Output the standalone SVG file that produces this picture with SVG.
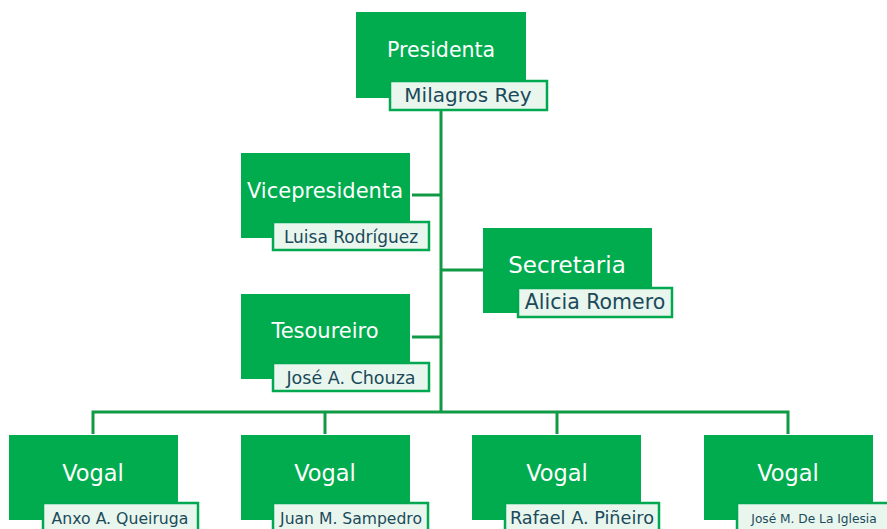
<svg xmlns="http://www.w3.org/2000/svg" width="887" height="529" viewBox="0 0 887 529">
<style>
.box{fill:#00ac4e;}
.nb{fill:#e9f6ee;stroke:#00a84f;stroke-width:2.5;}
.t{font-family:"DejaVu Sans","Liberation Sans",sans-serif;font-size:21px;fill:#ffffff;text-anchor:middle;}
.v{font-size:22.5px;}
.n{font-family:"DejaVu Sans","Liberation Sans",sans-serif;font-size:19px;fill:#1b4a5a;text-anchor:middle;}
.c{stroke:#109a45;stroke-width:3;fill:none;}
</style>
<rect width="887" height="529" fill="#ffffff"/>
<g id="connectors">
<path class="c" d="M441 110 V412"/>
<path class="c" d="M412 195 H441"/>
<path class="c" d="M441 270 H483"/>
<path class="c" d="M412 337 H441"/>
<path class="c" d="M93 434 V412 H788 V434"/>
<path class="c" d="M325 412 V434"/>
<path class="c" d="M557 412 V434"/>
</g>
<g id="presidenta">
<rect class="box" x="356" y="12" width="170" height="86"/>
<text class="t" x="441" y="57" style="font-size:20.5px">Presidenta</text>
<rect class="nb" x="390" y="81" width="157" height="29"/>
<text class="n" x="468" y="102" style="font-size:20px">Milagros Rey</text>
</g>
<g id="vicepresidenta">
<rect class="box" x="241" y="153" width="169" height="85"/>
<text class="t" x="325" y="198">Vicepresidenta</text>
<rect class="nb" x="273" y="222" width="156" height="28"/>
<text class="n" x="351" y="243" style="font-size:17px">Luisa Rodríguez</text>
</g>
<g id="secretaria">
<rect class="box" x="483" y="228" width="169" height="85"/>
<text class="t" x="567" y="273" style="font-size:23px">Secretaria</text>
<rect class="nb" x="518" y="288" width="154" height="29"/>
<text class="n" x="595" y="309" style="font-size:20.5px">Alicia Romero</text>
</g>
<g id="tesoureiro">
<rect class="box" x="241" y="294" width="169" height="85"/>
<text class="t" x="325" y="338">Tesoureiro</text>
<rect class="nb" x="273" y="363" width="156" height="28"/>
<text class="n" x="351" y="384" style="font-size:17.5px">José A. Chouza</text>
</g>
<g id="vogal1">
<rect class="box" x="9" y="435" width="169" height="85"/>
<text class="t v" x="93" y="481">Vogal</text>
<rect class="nb" x="43" y="503" width="155" height="30"/>
<text class="n" x="120" y="524" style="font-size:15.7px">Anxo A. Queiruga</text>
</g>
<g id="vogal2">
<rect class="box" x="241" y="435" width="169" height="85"/>
<text class="t v" x="325" y="481">Vogal</text>
<rect class="nb" x="273" y="503" width="155" height="30"/>
<text class="n" x="351" y="524" style="font-size:15.6px">Juan M. Sampedro</text>
</g>
<g id="vogal3">
<rect class="box" x="472" y="435" width="169" height="85"/>
<text class="t v" x="557" y="481">Vogal</text>
<rect class="nb" x="505" y="503" width="154" height="30"/>
<text class="n" x="582" y="524" style="font-size:17.7px">Rafael A. Piñeiro</text>
</g>
<g id="vogal4">
<rect class="box" x="704" y="435" width="169" height="85"/>
<text class="t v" x="788" y="481">Vogal</text>
<rect class="nb" x="737" y="503" width="155" height="30"/>
<text class="n" x="814" y="523" style="font-size:12.2px">José M. De La Iglesia</text>
</g>
</svg>
